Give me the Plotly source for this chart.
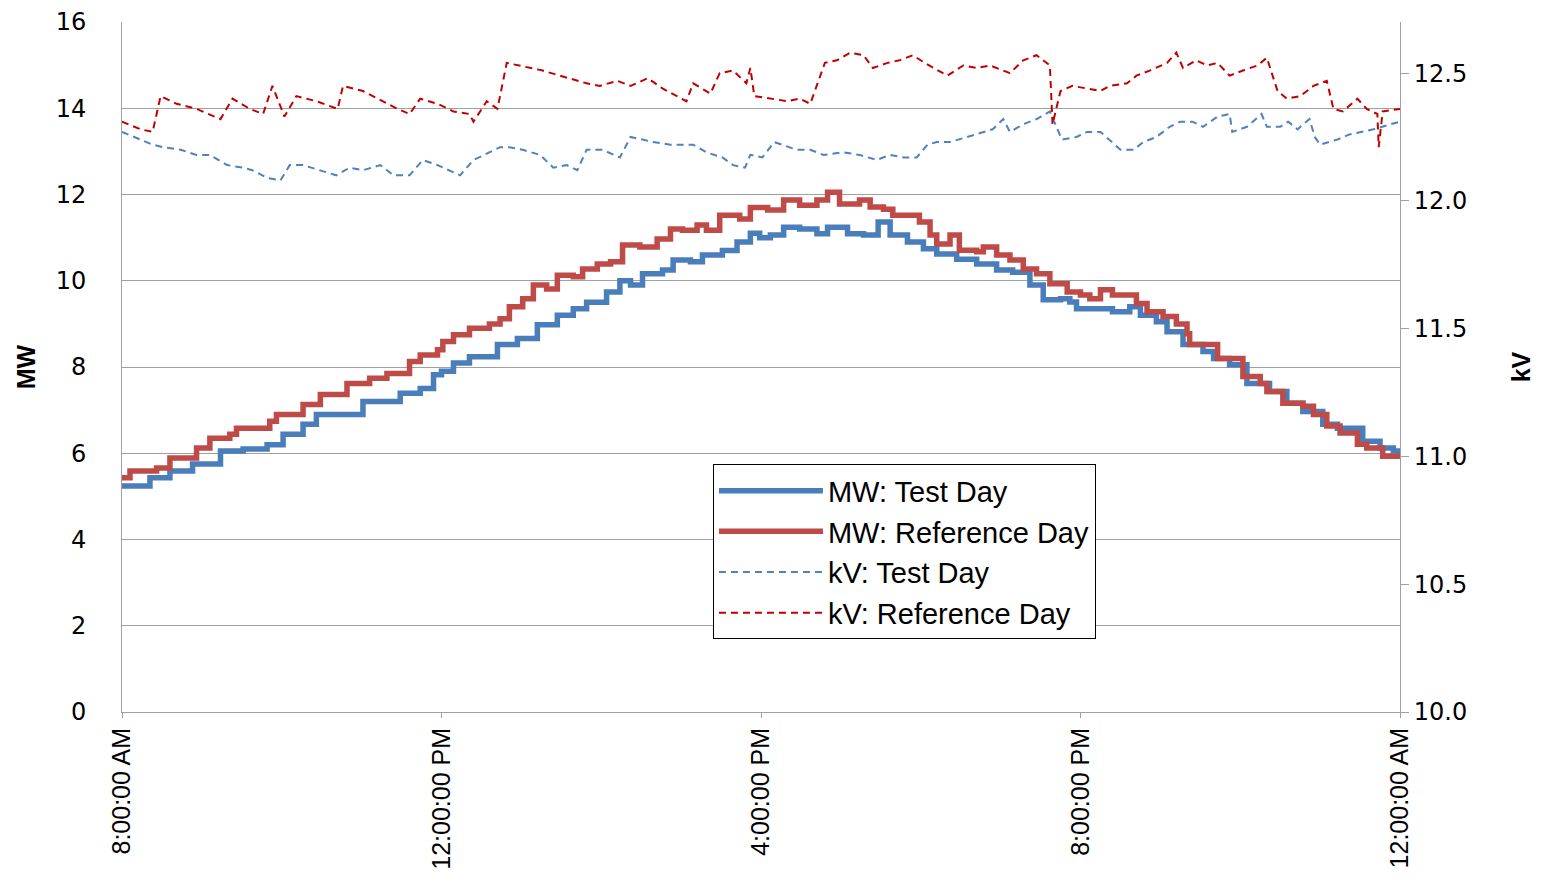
import pandas as pd
import plotly.graph_objects as go

# minutes after 8:00 AM
t_mw_test = [0, 21, 36, 53, 74, 91, 109, 121, 136, 146, 181, 201, 209, 224, 234, 240, 249, 261,
             282, 297, 312, 327, 339, 349, 364, 374, 382, 391, 406, 414, 427, 436, 451, 462, 472,
             479, 487, 497, 509, 522, 530, 545, 557, 568, 577, 590, 602, 612, 627, 642, 657, 669,
             682, 692, 705, 712, 717, 744, 757, 765, 777, 785, 797, 812, 820, 832, 845, 862, 875,
             887, 902, 913, 932, 945, 955, 960]
mw_test = [5.24, 5.43, 5.59, 5.75, 6.05, 6.10, 6.20, 6.44, 6.67, 6.90, 7.20, 7.20, 7.39, 7.50, 7.82,
           7.90, 8.09, 8.24, 8.52, 8.66, 8.98, 9.20, 9.35, 9.50, 9.74, 10.0, 9.90, 10.16, 10.25,
           10.48, 10.44, 10.60, 10.70, 10.90, 11.10, 11.00, 11.06, 11.24, 11.20, 11.09, 11.24,
           11.09, 11.06, 11.36, 11.06, 10.90, 10.74, 10.62, 10.50, 10.39, 10.25, 10.20, 9.90,
           9.56, 9.58, 9.51, 9.35, 9.28, 9.40, 9.20, 9.05, 8.82, 8.52, 8.36, 8.20, 8.05, 7.62,
           7.43, 7.16, 6.97, 6.67, 6.58, 6.28, 6.12, 6.05, 5.93]

t_mw_ref = [0, 6, 26, 36, 56, 66, 81, 86, 111, 116, 136, 149, 169, 186, 199, 216, 224, 237, 241,
            249, 261, 276, 284, 291, 301, 309, 319, 327, 339, 346, 357, 367, 376, 389, 402, 412,
            421, 432, 439, 449, 464, 472, 485, 497, 509, 522, 530, 539, 554, 562, 572, 579, 599,
            607, 612, 622, 629, 642, 647, 657, 667, 677, 687, 697, 710, 720, 727, 735, 744, 762,
            770, 782, 792, 800, 802, 823, 842, 855, 860, 872, 887, 895, 905, 915, 928, 935, 947, 960]
mw_ref = [5.43, 5.59, 5.66, 5.89, 6.12, 6.35, 6.44, 6.58, 6.74, 6.90, 7.13, 7.36, 7.62, 7.74, 7.85,
          8.13, 8.28, 8.40, 8.59, 8.75, 8.90, 9.00, 9.12, 9.40, 9.58, 9.90, 9.81, 10.13, 10.09,
          10.27, 10.39, 10.44, 10.83, 10.78, 10.97, 11.20, 11.17, 11.29, 11.17, 11.52, 11.43,
          11.70, 11.64, 11.87, 11.75, 11.87, 12.05, 11.78, 11.87, 11.71, 11.66, 11.52, 11.36,
          11.06, 10.85, 11.06, 10.71, 10.67, 10.78, 10.60, 10.48, 10.27, 10.16, 9.93, 9.74, 9.67,
          9.58, 9.79, 9.67, 9.47, 9.28, 9.17, 9.00, 8.77, 8.52, 8.20, 7.78, 7.62, 7.43, 7.16,
          7.09, 6.90, 6.63, 6.47, 6.21, 6.12, 5.93, 5.89]

t_kv_test = [0, 14, 23, 31, 44, 56, 66, 79, 91, 98, 109, 119, 126, 136, 149, 161, 171, 181, 194,
             204, 216, 226, 237, 246, 254, 264, 284, 291, 301, 314, 324, 334, 342, 349, 361, 374,
             382, 391, 399, 412, 429, 439, 451, 459, 468, 472, 481, 490, 496, 507, 517, 527, 542,
             554, 567, 577, 587, 597, 605, 612, 622, 635, 647, 654, 662, 667, 677, 687, 697, 706,
             717, 725, 735, 744, 750, 760, 767, 777, 787, 795, 804, 812, 823, 832, 834, 845, 856,
             860, 870, 876, 883, 892, 896, 900, 913, 922, 930, 940, 953, 960]
kv_test = [12.27, 12.24, 12.22, 12.21, 12.20, 12.18, 12.18, 12.14, 12.13, 12.12, 12.09, 12.08,
           12.14, 12.14, 12.12, 12.10, 12.13, 12.12, 12.14, 12.10, 12.10, 12.16, 12.14, 12.12,
           12.10, 12.16, 12.21, 12.21, 12.20, 12.18, 12.13, 12.14, 12.12, 12.20, 12.20, 12.17,
           12.25, 12.24, 12.23, 12.22, 12.22, 12.19, 12.17, 12.14, 12.13, 12.18, 12.17, 12.23,
           12.22, 12.20, 12.20, 12.18, 12.19, 12.18, 12.16, 12.18, 12.17, 12.17, 12.22, 12.23,
           12.23, 12.25, 12.27, 12.28, 12.32, 12.27, 12.30, 12.32, 12.35, 12.24, 12.25, 12.27,
           12.27, 12.23, 12.20, 12.20, 12.23, 12.25, 12.29, 12.31, 12.31, 12.29, 12.33, 12.34,
           12.27, 12.29, 12.34, 12.29, 12.29, 12.31, 12.28, 12.32, 12.25, 12.22, 12.24, 12.26,
           12.27, 12.28, 12.30, 12.31]

t_kv_ref = [0, 14, 23, 29, 41, 56, 74, 83, 96, 106, 113, 122, 131, 146, 162, 166, 181, 192, 207,
            216, 224, 237, 249, 261, 264, 274, 282, 289, 306, 316, 329, 349, 359, 372, 382, 395,
            406, 417, 424, 429, 442, 449, 459, 469, 472, 475, 487, 500, 509, 517, 528, 537, 547,
            557, 564, 575, 584, 594, 603, 620, 632, 642, 652, 667, 677, 687, 697, 699, 705, 714,
            735, 742, 755, 762, 772, 785, 792, 797, 807, 815, 823, 832, 842, 853, 860, 868, 875,
            885, 895, 905, 910, 917, 928, 935, 943, 944, 947, 960]
kv_ref = [12.31, 12.28, 12.27, 12.41, 12.38, 12.36, 12.32, 12.40, 12.36, 12.34, 12.45, 12.33,
          12.41, 12.39, 12.36, 12.45, 12.43, 12.40, 12.36, 12.34, 12.40, 12.38, 12.35, 12.34,
          12.31, 12.39, 12.36, 12.54, 12.52, 12.51, 12.49, 12.46, 12.45, 12.47, 12.45, 12.48,
          12.44, 12.41, 12.39, 12.46, 12.42, 12.50, 12.51, 12.46, 12.52, 12.41, 12.40, 12.39,
          12.40, 12.38, 12.54, 12.55, 12.58, 12.57, 12.52, 12.54, 12.55, 12.57, 12.54, 12.49,
          12.53, 12.52, 12.53, 12.50, 12.55, 12.57, 12.53, 12.30, 12.43, 12.45, 12.43, 12.45,
          12.46, 12.49, 12.51, 12.54, 12.58, 12.52, 12.55, 12.53, 12.54, 12.49, 12.51, 12.53,
          12.56, 12.43, 12.40, 12.41, 12.45, 12.47, 12.36, 12.35, 12.40, 12.36, 12.34, 12.21,
          12.35, 12.36]

base = pd.Timestamp("2010-07-15 08:00")


def to_time(mins):
    return base + pd.to_timedelta(mins, unit="min")


grey = "#A0A0A0"
fig = go.Figure()

fig.add_trace(go.Scatter(x=to_time(t_mw_test), y=mw_test, name="MW: Test Day", mode="lines",
                         line=dict(color="#4A7EBB", width=5.5, shape="hv"), legendgroup="a"))
fig.add_trace(go.Scatter(x=to_time(t_mw_ref), y=mw_ref, name="MW: Reference Day", mode="lines",
                         line=dict(color="#BE4B48", width=5.5, shape="hv"), legendgroup="b"))
fig.add_trace(go.Scatter(x=to_time(t_kv_test), y=kv_test, name="kV: Test Day", mode="lines",
                         line=dict(color="#4F81BD", width=2, dash="7px,5px"), yaxis="y2",
                         legendgroup="c"))
fig.add_trace(go.Scatter(x=to_time(t_kv_ref), y=kv_ref, name="kV: Reference Day", mode="lines",
                         line=dict(color="#C00000", width=2, dash="7px,5px"), yaxis="y2",
                         legendgroup="d"))

tick_times = [base + pd.Timedelta(hours=h) for h in (0, 4, 8, 12, 16)]

# the page body has an 8px margin, so the figure is drawn 8px smaller and shifted
fig.update_layout(
    width=1530, height=870,
    paper_bgcolor="white", plot_bgcolor="white",
    margin=dict(l=114, r=138, t=14, b=166),
    font=dict(family="DejaVu Sans", size=22, color="black"),
    showlegend=True,
    legend=dict(x=0.4624, y=0.359, xanchor="left", yanchor="top",
                bordercolor="black", borderwidth=1, bgcolor="white",
                font=dict(family="Liberation Sans", size=29),
                tracegroupgap=0, itemwidth=104),
    xaxis=dict(type="date", range=[tick_times[0], tick_times[-1]], tickvals=tick_times,
               tickformat="%-I:%M:%S %p", tickangle=-90, showgrid=False, automargin=False,
               showline=True, linecolor=grey, linewidth=1, ticks="outside", ticklen=5,
               tickcolor=grey, tickfont=dict(family="Liberation Sans", size=25),
               ticklabeloverflow="allow"),
    yaxis=dict(range=[0, 16], dtick=2, showgrid=True, gridcolor=grey, gridwidth=1,
               zeroline=False, showline=True, linecolor=grey, ticks="", automargin=False,
               ticklabelstandoff=30, tickfont=dict(size=24), ticklabeloverflow="allow",
               title=dict(text="<b>MW</b>", font=dict(family="Liberation Sans", size=25),
                          standoff=12)),
    yaxis2=dict(range=[10, 12.7], tickvals=[10, 10.5, 11, 11.5, 12, 12.5], tickformat=".1f",
                overlaying="y", side="right", showgrid=False, zeroline=False, automargin=False,
                showline=True, linecolor=grey, ticks="outside", ticklen=8, tickcolor=grey,
                tickfont=dict(size=24), ticklabeloverflow="allow",
                title=dict(text="<b>kV</b>", font=dict(family="Liberation Sans", size=25),
                           standoff=46)),
)

fig.write_html("out.html")
